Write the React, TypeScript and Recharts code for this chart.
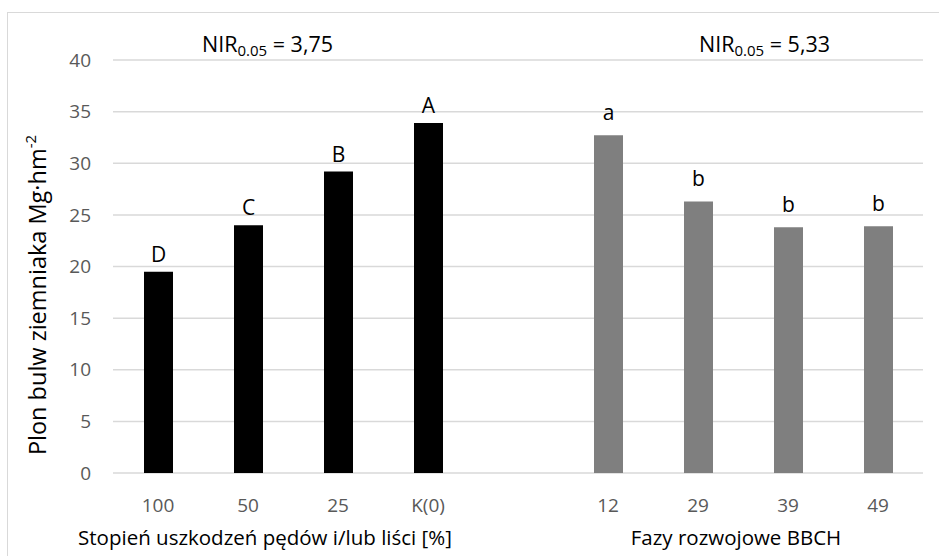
import { BarChart, Bar, XAxis, YAxis, CartesianGrid, LabelList } from "recharts";

// kategorie osi X (pusta pozycja rozdziela dwie grupy)
const categories = ["100", "50", "25", "K(0)", "", "12", "29", "39", "49"];

// plon przy stopniu uszkodzeń pędów / liści
const damageYield = [19.5, 24.0, 29.2, 33.9, null, null, null, null, null];
const damageLetters = ["D", "C", "B", "A", "", "", "", "", ""];

// plon wg faz rozwojowych BBCH
const phaseYield = [null, null, null, null, null, 32.7, 26.3, 23.8, 23.9];
const phaseLetters = ["", "", "", "", "", "a", "b", "b", "b"];

const yTicks = [0, 5, 10, 15, 20, 25, 30, 35, 40];

const nirDamage = "3,75";
const nirPhase = "5,33";
const damageTitle = "Stopień uszkodzeń pędów i/lub liści [%]";
const phaseTitle = "Fazy rozwojowe BBCH";
const yTitle = "Plon bulw ziemniaka Mg·hm";

const FONT = "'Open Sans', Lato, sans-serif";

const data = categories.map((cat, i) => ({
  cat,
  damage: damageYield[i],
  phase: phaseYield[i],
  damageLetter: damageLetters[i],
  phaseLetter: phaseLetters[i],
}));

const letterLabel = (gap: number) => (props: any) => {
  const { x, y, width, value } = props;
  if (!value) return null;
  return (
    <text
      x={Number(x) + Number(width) / 2}
      y={Number(y) - gap}
      textAnchor="middle"
      fill="#000"
      fontSize={21}
      fontFamily={FONT}
    >
      {value}
    </text>
  );
};

export default function App() {
  return (
    <div
      style={{
        position: "absolute",
        left: 0,
        top: 0,
        width: 939,
        height: 556,
        overflow: "hidden",
        background: "#fff",
      }}
    >
      <div
        style={{
          position: "absolute",
          left: 7,
          top: 12,
          width: 950,
          height: 560,
          border: "1.5px solid #d9d9d9",
        }}
      />
      <BarChart
        width={939}
        height={556}
        data={data}
        margin={{ top: 60, right: 16, bottom: 43, left: 53 }}
        style={{ position: "absolute", left: 0, top: 0 }}
      >
        <CartesianGrid vertical={false} stroke="#d9d9d9" strokeWidth={1.5} />
        <XAxis
          dataKey="cat"
          height={40}
          axisLine={false}
          tickLine={false}
          tickSize={0}
          tickMargin={26}
          interval={0}
          tick={{ fill: "#595959", fontSize: 19, fontFamily: FONT }}
        />
        <YAxis
          width={60}
          domain={[0, 40]}
          ticks={yTicks}
          axisLine={false}
          tickLine={false}
          tickSize={0}
          tickMargin={22}
          tick={{ fill: "#595959", fontSize: 19, fontFamily: FONT }}
        />
        <Bar dataKey="damage" stackId="s" fill="#000000" barSize={29} isAnimationActive={false}>
          <LabelList dataKey="damageLetter" content={letterLabel(10)} />
        </Bar>
        <Bar dataKey="phase" stackId="s" fill="#7f7f7f" barSize={29} isAnimationActive={false}>
          <LabelList dataKey="phaseLetter" content={letterLabel(15)} />
        </Bar>
      </BarChart>
      <svg
        width={939}
        height={556}
        style={{ position: "absolute", left: 0, top: 0, pointerEvents: "none" }}
        fontFamily={FONT}
      >
        <text x={202} y={52} fontSize={21.5} fill="#000">
          NIR
          <tspan fontSize={15} dy={4}>0.05</tspan>
          <tspan dy={-4}>{` = ${nirDamage}`}</tspan>
        </text>
        <text x={699} y={52} fontSize={21.5} fill="#000">
          NIR
          <tspan fontSize={15} dy={4}>0.05</tspan>
          <tspan dy={-4}>{` = ${nirPhase}`}</tspan>
        </text>
        <text
          transform="translate(46,295) rotate(-90)"
          textAnchor="middle"
          fontSize={23.5}
          fill="#000"
        >
          {yTitle}
          <tspan fontSize={15} dy={-10}>-2</tspan>
        </text>
        <text x={265} y={545} textAnchor="middle" fontSize={20.5} fill="#000">
          {damageTitle}
        </text>
        <text x={736} y={545} textAnchor="middle" fontSize={20.5} fill="#000">
          {phaseTitle}
        </text>
      </svg>
    </div>
  );
}
